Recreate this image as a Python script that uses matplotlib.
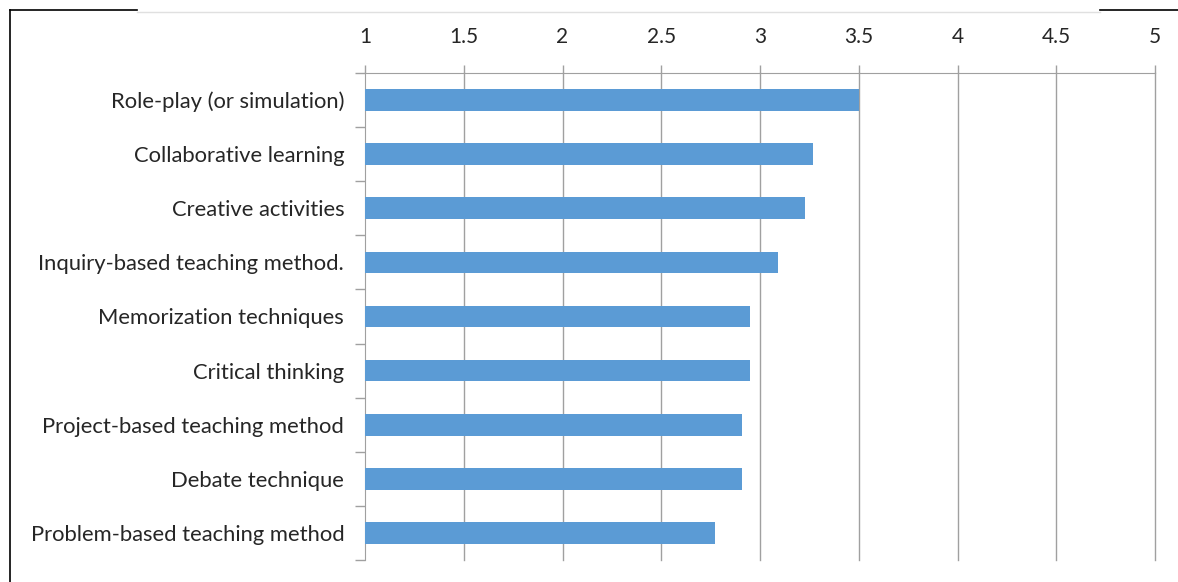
import numpy as np
import matplotlib.pyplot as plt
from matplotlib.lines import Line2D

# data (top to bottom)
methods = ['Role-play (or simulation)', 'Collaborative learning', 'Creative activities',
           'Inquiry-based teaching method.', 'Memorization techniques', 'Critical thinking',
           'Project-based teaching method', 'Debate technique', 'Problem-based teaching method']
scores = [3.50, 3.27, 3.23, 3.09, 2.95, 2.95, 2.91, 2.91, 2.77]
xticks = [1, 1.5, 2, 2.5, 3, 3.5, 4, 4.5, 5]
xticklabels = ['1', '1.5', '2', '2.5', '3', '3.5', '4', '4.5', '5']

plt.rcParams['font.family'] = ['Lato', 'DejaVu Sans']
grid_col = '#a0a0a0'
txt_col = '#262626'

fig = plt.figure(figsize=(11.78, 5.82), dpi=100)
ax = fig.add_axes([365/1178, 1-560/582, 790/1178, 487/582])

y = np.arange(len(methods))
ax.barh(y, [s - 1 for s in scores], left=1, height=0.4, color='#5b9bd5', zorder=3)

ax.set_xlim(1, 5)
ax.set_ylim(len(methods) - 0.5, -0.5)

# x axis on top
ax.xaxis.tick_top()
ax.set_xticks(xticks)
ax.set_xticklabels(xticklabels, fontsize=15, color=txt_col)
ax.tick_params(axis='x', which='major', direction='out', length=6, width=1, color=grid_col, pad=13)
for xv in xticks[1:]:
    ax.axvline(xv, color=grid_col, lw=1, zorder=0, clip_on=False)

# category labels, ticks between categories
ax.set_yticks(y)
ax.set_yticklabels(methods, fontsize=15.8, color=txt_col)
ax.tick_params(axis='y', which='major', length=0, pad=15)
ax.set_yticks(np.arange(len(methods) + 1) - 0.5, minor=True)
ax.tick_params(axis='y', which='minor', direction='out', length=7, width=1, color=grid_col)

for side in ['right', 'bottom']:
    ax.spines[side].set_visible(False)
ax.spines['top'].set_color(grid_col)
ax.spines['left'].set_color(grid_col)

# outer frame remnants
fig.add_artist(Line2D([10/1178, 10/1178], [0, 1-10/582], color='black', lw=1.2))
fig.add_artist(Line2D([10/1178, 137/1178], [1-10/582, 1-10/582], color='black', lw=1.2))
fig.add_artist(Line2D([1100/1178, 1], [1-10/582, 1-10/582], color='black', lw=1.2))
fig.add_artist(Line2D([137/1178, 1100/1178], [1-12/582, 1-12/582], color='#e0e0e0', lw=1))

fig.savefig('out.png', dpi=100)
